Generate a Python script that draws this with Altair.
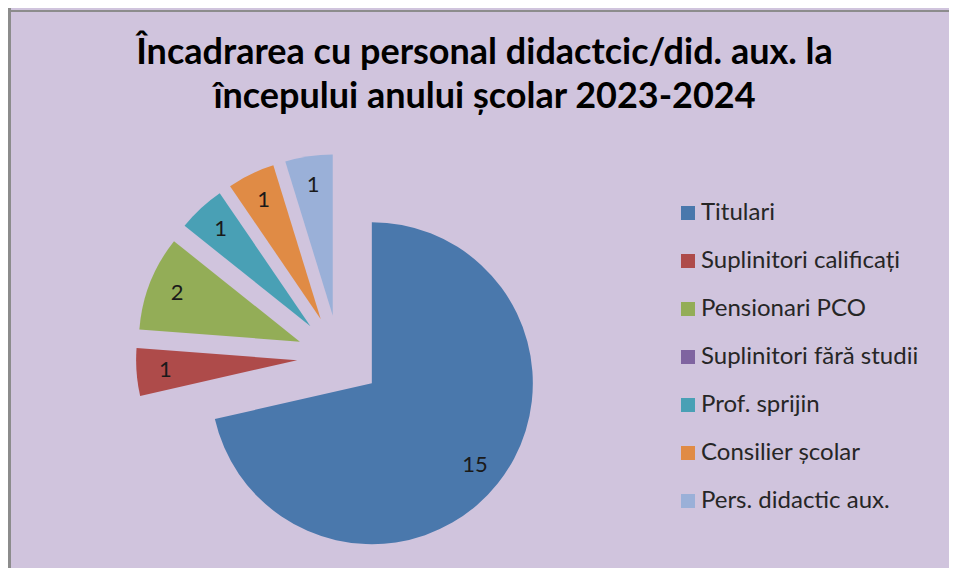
import altair as alt
import pandas as pd

categories = ["Titulari", "Suplinitori  calificați", "Pensionari PCO",
              "Suplinitori fără studii", "Prof. sprijin", "Consilier școlar",
              "Pers. didactic aux."]
values = [15, 1, 2, 0, 1, 1, 1]
colors = ["#4A78AC", "#AE4B4A", "#93AD57", "#7F64A0", "#49A0B5", "#E08B45", "#9AB0D8"]
title_lines = ["Încadrarea cu personal didactcic/did. aux. la",
               "începului anului școlar 2023-2024"]

df = pd.DataFrame({"cat": categories, "value": values, "idx": list(range(len(categories)))})

CX, CY = 331, 349      # pie centre within the view (pixels)
EXPLODE = 42           # explosion distance of each slice
R = 161                # pie radius
LABEL_R = 132          # label distance from a slice's apex

base = (
    alt.Chart(df)
    .transform_window(cum="sum(value)", sort=[alt.SortField("idx")], frame=[None, 0])
    .transform_joinaggregate(total="sum(value)")
    .transform_calculate(
        a1="datum.cum / datum.total * 2 * PI",
        a0="(datum.cum - datum.value) / datum.total * 2 * PI",
    )
    .transform_calculate(mid="(datum.a0 + datum.a1) / 2")
    .transform_calculate(
        px=f"{CX} + {EXPLODE} * sin(datum.mid)",
        py=f"{CY} - {EXPLODE} * cos(datum.mid)",
        lx=f"{CX} + ({EXPLODE} + {LABEL_R}) * sin(datum.mid)",
        ly=f"{CY} - ({EXPLODE} + {LABEL_R}) * cos(datum.mid)",
    )
)

arcs = base.mark_arc(radius=R).encode(
    x=alt.X("px:Q", scale=None, axis=None),
    y=alt.Y("py:Q", scale=None, axis=None),
    theta=alt.Theta("a0:Q", scale=None, stack=False),
    theta2="a1:Q",
    color=alt.Color(
        "cat:N",
        scale=alt.Scale(domain=categories, range=colors),
        sort=categories,
        legend=alt.Legend(
            title=None, orient="none", legendX=668, legendY=193,
            symbolType="square", symbolSize=196, symbolStrokeWidth=0,
            labelFont="Lato", labelFontSize=24, labelColor="#262626",
            labelOffset=1, rowPadding=24, labelLimit=400,
        ),
    ),
)

labels = base.transform_filter("datum.value > 0").mark_text(
    font="Lato", fontSize=22, color="#1a1a1a"
).encode(
    x=alt.X("lx:Q", scale=None, axis=None),
    y=alt.Y("ly:Q", scale=None, axis=None),
    text="value:Q",
)

border_df = pd.DataFrame({"b": [0]})
left_border = alt.Chart(border_df).mark_rule(color="#8C8C8C", strokeWidth=3).encode(
    x=alt.value(1.5), y=alt.value(0), y2=alt.value(560)
)
top_border = alt.Chart(border_df).mark_rule(color="#8C8C8C", strokeWidth=2).encode(
    x=alt.value(0), x2=alt.value(941), y=alt.value(3)
)

chart = (
    alt.layer(arcs, labels, left_border, top_border)
    .properties(
        width=941,
        height=560,
        padding={"left": 0, "top": 0, "right": 0, "bottom": 0},
        autosize=alt.AutoSizeParams(type="none"),
        background="#D0C4DD",
        title=alt.TitleParams(
            text=title_lines, font="Lato", fontSize=36, fontWeight="bold",
            color="#000000", anchor="middle", dx=6, offset=-145, lineHeight=44,
            baseline="bottom",
        ),
    )
    .configure_view(stroke=None)
)

chart.save("out.html", embed_options={"renderer": "svg", "actions": False})
